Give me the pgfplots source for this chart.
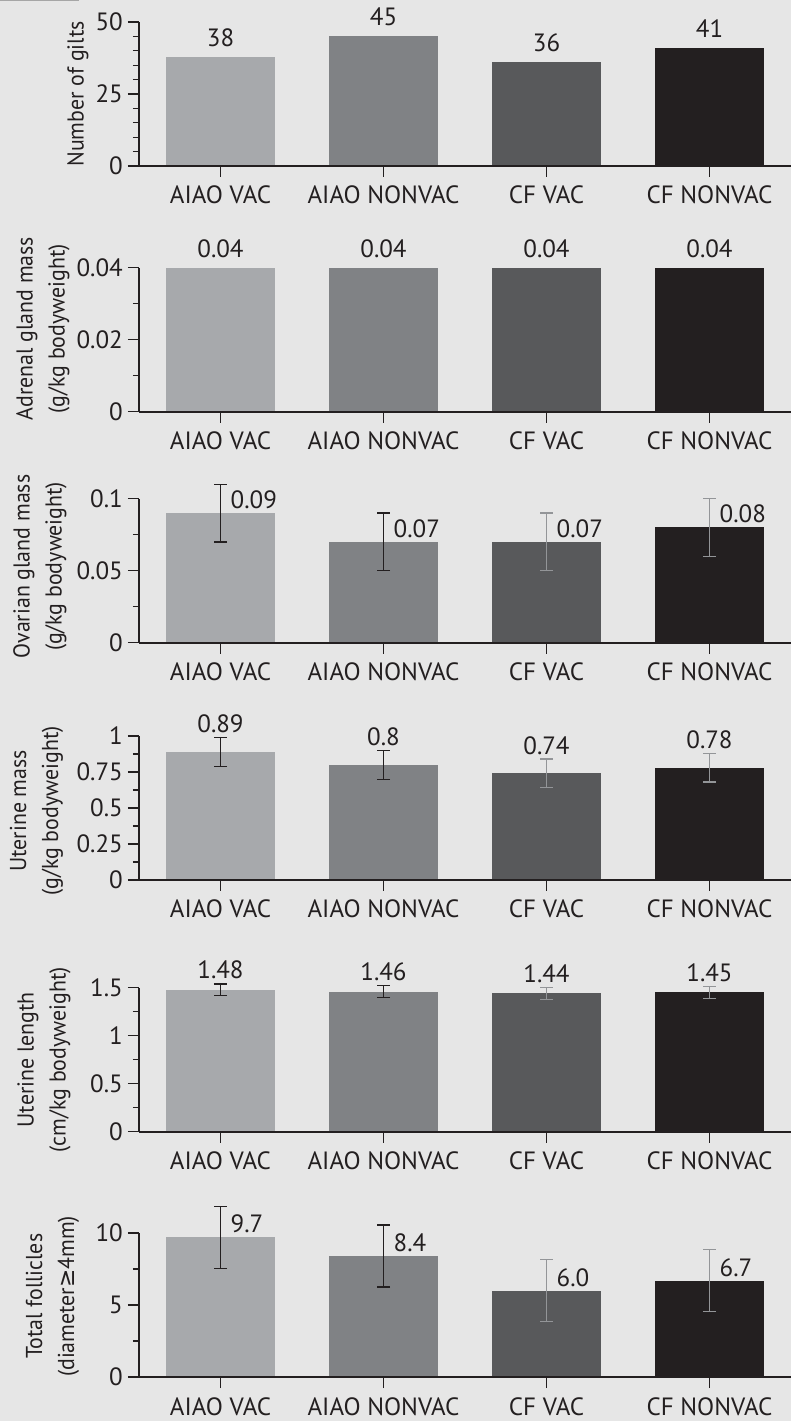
\documentclass[border=0pt]{standalone}
\usepackage{pgfplots}
\pgfplotsset{compat=1.18}
\usepackage{fontspec}
\setmainfont{PT Sans}
\newfontfamily\condfont[FakeStretch=0.95]{PT Sans}
\newfontfamily\symcond[FakeStretch=0.95]{DejaVu Sans}
\definecolor{bg}{HTML}{E6E6E6}
\definecolor{cA}{HTML}{A7A9AC}
\definecolor{cB}{HTML}{808285}
\definecolor{cC}{HTML}{58595B}
\definecolor{cD}{HTML}{231F20}
\definecolor{ink}{HTML}{231F20}
\definecolor{errg}{HTML}{939598}
\pgfplotsset{
  panel/.style={
    scale only axis, width=652pt, height=144pt,
    anchor=south west,
    xmin=-0.5, xmax=3.5, ymin=0,
    axis lines*=left,
    axis line style={line width=2pt, color=ink},
    axis on top,
    clip=false,
    xtick={0,1,2,3},
    xticklabels={AIAO VAC, AIAO NONVAC, CF VAC, CF NONVAC},
    tick align=outside,
    major tick length=11pt, minor tick length=6pt,
    every tick/.append style={line width=1.3pt, color=ink},
    minor y tick num=1,
    tick label style={font=\fontsize{25}{29}\selectfont, color=ink, inner sep=0pt},
    yticklabel style={xshift=-5pt},
    xticklabel style={yshift=-9pt},
    ylabel style={font=\condfont\fontsize{23}{32}\selectfont, align=center, color=ink, anchor=center},
    ybar,
    nodes near coords, point meta=explicit symbolic,
    every node near coord/.append style={font=\fontsize{25}{29}\selectfont, color=ink, inner sep=0pt},
    scaled y ticks=false,
  },
  b/.style={fill=#1, draw=none, bar width=109pt, bar shift=0pt},
  eb/.style={error bars/.cd, y dir=both, y explicit,
    error bar style={line width=1.3pt, color=#1},
    error mark options={rotate=90, mark size=6.5pt, line width=1.3pt, color=#1}},
}
\begin{document}
\begin{tikzpicture}
\fill[bg] (0pt,0pt) rectangle (791pt,1421pt);
\fill[black!35] (0pt,1419.5pt) rectangle (79pt,1421pt);
% Panel 1
\begin{axis}[panel, at={(139pt,1255pt)}, ymax=50, ytick={0,25,50}, yticklabels={0,25,50}, minor y tick num=4,
  ylabel={Number of gilts}, ylabel style={at={(axis description cs:-0.0936,0.5)}},
  every node near coord/.append style={yshift=10pt}]
\addplot[b=cA] table[meta=l] {x y l
0 38 38
};
\addplot[b=cB] table[meta=l] {x y l
1 45 45
};
\addplot[b=cC] table[meta=l] {x y l
2 36 36
};
\addplot[b=cD] table[meta=l] {x y l
3 41 41
};
\end{axis}
% Panel 2
\begin{axis}[panel, at={(139pt,1009.3pt)}, ymax=0.04, ytick={0,0.02,0.04}, yticklabels={0,0.02,0.04},
  ylabel={Adrenal gland mass\\(g/kg bodyweight)}, ylabel style={at={(axis description cs:-0.1472,0.576)}},
  every node near coord/.append style={yshift=10pt}]
\addplot[b=cA] table[meta=l] {x y l
0 0.04 0.04
};
\addplot[b=cB] table[meta=l] {x y l
1 0.04 0.04
};
\addplot[b=cC] table[meta=l] {x y l
2 0.04 0.04
};
\addplot[b=cD] table[meta=l] {x y l
3 0.04 0.04
};
\end{axis}
% Panel 3
\begin{axis}[panel, at={(139pt,778.3pt)}, ymax=0.1, ytick={0,0.05,0.1}, yticklabels={0,0.05,0.1},
  ylabel={Ovarian gland mass\\(g/kg bodyweight)}, ylabel style={at={(axis description cs:-0.1518,0.53)}},
  every node near coord/.append style={anchor=south west, xshift=10pt, yshift=4pt}]
\addplot[b=cA, eb=ink] table[meta=l, y error=e] {x y e l
0 0.09 0.02 0.09
};
\addplot[b=cB, eb=ink] table[meta=l, y error=e] {x y e l
1 0.07 0.02 0.07
};
\addplot[b=cC, eb=errg] table[meta=l, y error=e] {x y e l
2 0.07 0.02 0.07
};
\addplot[b=cD, eb=errg] table[meta=l, y error=e] {x y e l
3 0.08 0.02 0.08
};
\end{axis}
% Panel 4
\begin{axis}[panel, at={(139pt,541pt)}, ymax=1, ytick={0,0.25,0.5,0.75,1}, yticklabels={0,0.25,0.5,0.75,1},
  ylabel={Uterine mass\\(g/kg bodyweight)}, ylabel style={at={(axis description cs:-0.1572,0.48)}},
  every node near coord/.append style={yshift=18.9pt}]
\addplot[b=cA, eb=ink] table[meta=l, y error=e] {x y e l
0 0.89 0.1 0.89
};
\addplot[b=cB, eb=ink] table[meta=l, y error=e] {x y e l
1 0.80 0.1 0.8
};
\addplot[b=cC, eb=errg] table[meta=l, y error=e] {x y e l
2 0.74 0.1 0.74
};
\addplot[b=cD, eb=errg] table[meta=l, y error=e] {x y e l
3 0.78 0.1 0.78
};
\end{axis}
% Panel 5
\begin{axis}[panel, at={(139pt,289.3pt)}, ymax=1.5, ytick={0,0.5,1,1.5}, yticklabels={0,0.5,1,1.5},
  ylabel={Uterine length\\(cm/kg bodyweight)}, ylabel style={at={(axis description cs:-0.1457,0.5)}},
  every node near coord/.append style={yshift=10.3pt}]
\addplot[b=cA, eb=ink] table[meta=l, y error=e] {x y e l
0 1.48 0.06 1.48
};
\addplot[b=cB, eb=ink] table[meta=l, y error=e] {x y e l
1 1.46 0.06 1.46
};
\addplot[b=cC, eb=errg] table[meta=l, y error=e] {x y e l
2 1.44 0.06 1.44
};
\addplot[b=cD, eb=errg] table[meta=l, y error=e] {x y e l
3 1.45 0.06 1.45
};
\end{axis}
% Panel 6
\begin{axis}[panel, at={(139pt,44pt)}, ymax=10, ytick={0,5,10}, yticklabels={0,5,10},
  ylabel={Total follicles\\(diameter{\symcond ≥}4mm)}, ylabel style={at={(axis description cs:-0.1327,0.56)}},
  every node near coord/.append style={anchor=south west, xshift=10pt, yshift=4pt}]
\addplot[b=cA, eb=ink] table[meta=l, y error=e] {x y e l
0 9.7 2.15 9.7
};
\addplot[b=cB, eb=ink] table[meta=l, y error=e] {x y e l
1 8.4 2.15 8.4
};
\addplot[b=cC, eb=errg] table[meta=l, y error=e] {x y e l
2 6.0 2.15 6.0
};
\addplot[b=cD, eb=errg] table[meta=l, y error=e] {x y e l
3 6.7 2.15 6.7
};
\end{axis}
\pgfresetboundingbox
\path[use as bounding box] (0pt,0pt) rectangle (791pt,1421pt);
\end{tikzpicture}
\end{document}
